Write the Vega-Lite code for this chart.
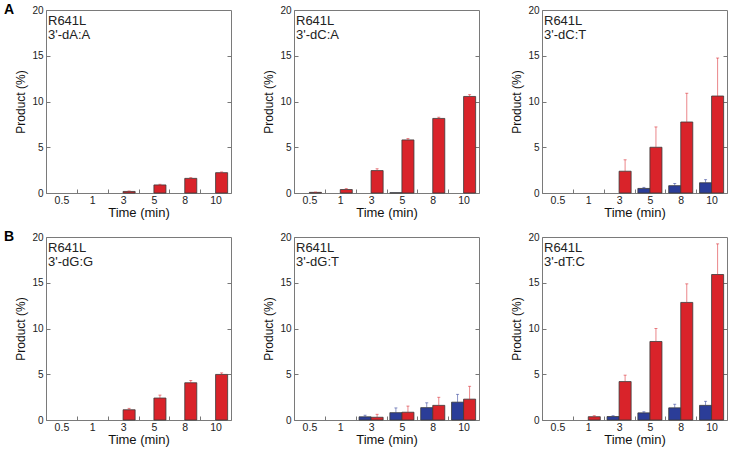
{
  "$schema": "https://vega.github.io/schema/vega-lite/v6.json",
  "padding": {"left": 3, "top": 3, "right": 2, "bottom": 2},
  "config": {
    "font": "Liberation Sans",
    "view": {"stroke": "#7a7a7a", "strokeWidth": 1},
    "axis": {"domain": false, "grid": false, "labelColor": "#222", "titleColor": "#111", "tickColor": "#777", "labelFont": "Liberation Sans", "titleFont": "Liberation Sans", "titleFontWeight": "normal"}
  },
  "data": {"values": [
    {"row": "A", "col": 1, "label": "R641L\n3'-dA:A", "time": "3", "series": "red", "value": 0.17, "upper": 0.22},
    {"row": "A", "col": 1, "label": "R641L\n3'-dA:A", "time": "5", "series": "red", "value": 0.88, "upper": 0.95},
    {"row": "A", "col": 1, "label": "R641L\n3'-dA:A", "time": "8", "series": "red", "value": 1.6, "upper": 1.68},
    {"row": "A", "col": 1, "label": "R641L\n3'-dA:A", "time": "10", "series": "red", "value": 2.22, "upper": 2.3},

    {"row": "A", "col": 2, "label": "R641L\n3'-dC:A", "time": "0.5", "series": "red", "value": 0.07, "upper": 0.1},
    {"row": "A", "col": 2, "label": "R641L\n3'-dC:A", "time": "1", "series": "red", "value": 0.38, "upper": 0.48},
    {"row": "A", "col": 2, "label": "R641L\n3'-dC:A", "time": "3", "series": "red", "value": 2.45, "upper": 2.65},
    {"row": "A", "col": 2, "label": "R641L\n3'-dC:A", "time": "5", "series": "blue", "value": 0.03, "upper": 0.03},
    {"row": "A", "col": 2, "label": "R641L\n3'-dC:A", "time": "5", "series": "red", "value": 5.8, "upper": 5.95},
    {"row": "A", "col": 2, "label": "R641L\n3'-dC:A", "time": "8", "series": "red", "value": 8.15, "upper": 8.28},
    {"row": "A", "col": 2, "label": "R641L\n3'-dC:A", "time": "10", "series": "red", "value": 10.55, "upper": 10.75},

    {"row": "A", "col": 3, "label": "R641L\n3'-dC:T", "time": "3", "series": "red", "value": 2.38, "upper": 3.63},
    {"row": "A", "col": 3, "label": "R641L\n3'-dC:T", "time": "5", "series": "blue", "value": 0.5, "upper": 0.61},
    {"row": "A", "col": 3, "label": "R641L\n3'-dC:T", "time": "5", "series": "red", "value": 5.0, "upper": 7.22},
    {"row": "A", "col": 3, "label": "R641L\n3'-dC:T", "time": "8", "series": "blue", "value": 0.8, "upper": 1.04},
    {"row": "A", "col": 3, "label": "R641L\n3'-dC:T", "time": "8", "series": "red", "value": 7.76, "upper": 10.9},
    {"row": "A", "col": 3, "label": "R641L\n3'-dC:T", "time": "10", "series": "blue", "value": 1.12, "upper": 1.46},
    {"row": "A", "col": 3, "label": "R641L\n3'-dC:T", "time": "10", "series": "red", "value": 10.6, "upper": 14.75},

    {"row": "B", "col": 1, "label": "R641L\n3'-dG:G", "time": "3", "series": "red", "value": 1.12, "upper": 1.27},
    {"row": "B", "col": 1, "label": "R641L\n3'-dG:G", "time": "5", "series": "red", "value": 2.4, "upper": 2.72},
    {"row": "B", "col": 1, "label": "R641L\n3'-dG:G", "time": "8", "series": "red", "value": 4.07, "upper": 4.32},
    {"row": "B", "col": 1, "label": "R641L\n3'-dG:G", "time": "10", "series": "red", "value": 4.98, "upper": 5.15},

    {"row": "B", "col": 2, "label": "R641L\n3'-dG:T", "time": "3", "series": "blue", "value": 0.35, "upper": 0.52},
    {"row": "B", "col": 2, "label": "R641L\n3'-dG:T", "time": "3", "series": "red", "value": 0.3, "upper": 0.62},
    {"row": "B", "col": 2, "label": "R641L\n3'-dG:T", "time": "5", "series": "blue", "value": 0.8, "upper": 1.32},
    {"row": "B", "col": 2, "label": "R641L\n3'-dG:T", "time": "5", "series": "red", "value": 0.85, "upper": 1.52},
    {"row": "B", "col": 2, "label": "R641L\n3'-dG:T", "time": "8", "series": "blue", "value": 1.35, "upper": 1.88},
    {"row": "B", "col": 2, "label": "R641L\n3'-dG:T", "time": "8", "series": "red", "value": 1.6, "upper": 2.48},
    {"row": "B", "col": 2, "label": "R641L\n3'-dG:T", "time": "10", "series": "blue", "value": 1.95, "upper": 2.8},
    {"row": "B", "col": 2, "label": "R641L\n3'-dG:T", "time": "10", "series": "red", "value": 2.28, "upper": 3.68},

    {"row": "B", "col": 3, "label": "R641L\n3'-dT:C", "time": "1", "series": "red", "value": 0.36, "upper": 0.47},
    {"row": "B", "col": 3, "label": "R641L\n3'-dT:C", "time": "3", "series": "blue", "value": 0.38, "upper": 0.47},
    {"row": "B", "col": 3, "label": "R641L\n3'-dT:C", "time": "3", "series": "red", "value": 4.2, "upper": 4.9},
    {"row": "B", "col": 3, "label": "R641L\n3'-dT:C", "time": "5", "series": "blue", "value": 0.78, "upper": 0.9},
    {"row": "B", "col": 3, "label": "R641L\n3'-dT:C", "time": "5", "series": "red", "value": 8.58, "upper": 10.0},
    {"row": "B", "col": 3, "label": "R641L\n3'-dT:C", "time": "8", "series": "blue", "value": 1.33, "upper": 1.72},
    {"row": "B", "col": 3, "label": "R641L\n3'-dT:C", "time": "8", "series": "red", "value": 12.85, "upper": 14.88},
    {"row": "B", "col": 3, "label": "R641L\n3'-dT:C", "time": "10", "series": "blue", "value": 1.6, "upper": 2.04},
    {"row": "B", "col": 3, "label": "R641L\n3'-dT:C", "time": "10", "series": "red", "value": 15.9, "upper": 19.25}
  ]},
  "facet": {
    "row": {"field": "row", "type": "nominal", "header": {"title": null, "labelOrient": "left", "labelAngle": 0, "labelAlign": "left", "labelBaseline": "middle", "labelAnchor": "end", "labelFontWeight": "bold", "labelFontSize": 14, "labelPadding": 0, "labelFont": "Liberation Sans", "labelColor": "#000"}},
    "column": {"field": "col", "type": "ordinal", "header": {"title": null, "labels": false}}
  },
  "spacing": {"row": 11, "column": 30},
  "resolve": {"axis": {"x": "independent", "y": "independent"}},
  "spec": {
    "width": 185,
    "height": 183,
    "resolve": {"axis": {"y": "independent"}},
    "layer": [
      {
        "mark": {"type": "bar", "stroke": "#3a3a3a", "strokeWidth": 0.8},
        "encoding": {
          "x": {"field": "time", "type": "ordinal", "scale": {"domain": ["0.5", "1", "3", "5", "8", "10"], "paddingInner": 0, "paddingOuter": 0},
                "axis": {"title": "Time (min)", "labelAngle": 0, "tickBand": "extent", "tickSize": -4, "labelPadding": 6, "labelFontSize": 10.5, "titleFontSize": 13, "titlePadding": 1}},
          "xOffset": {"field": "series", "type": "nominal", "scale": {"domain": ["blue", "red"], "paddingInner": 0, "paddingOuter": 0.28}},
          "y": {"field": "value", "type": "quantitative", "scale": {"domain": [0, 20], "nice": false},
                "axis": {"orient": "left", "title": "Product (%)", "values": [0, 5, 10, 15, 20], "tickSize": -4, "labelPadding": 7, "labelFontSize": 10, "titleFontSize": 12, "titlePadding": 4}},
          "color": {"field": "series", "type": "nominal", "scale": {"domain": ["blue", "red"], "range": ["#2b3d98", "#d9232a"]}, "legend": null}
        }
      },
      {
        "transform": [{"filter": "datum.upper > datum.value"}],
        "mark": {"type": "rule", "strokeWidth": 1, "opacity": 0.55},
        "encoding": {
          "x": {"field": "time", "type": "ordinal"},
          "xOffset": {"field": "series", "type": "nominal"},
          "y": {"field": "value", "type": "quantitative", "axis": {"orient": "right", "title": null, "labels": false, "values": [5, 10, 15], "tickSize": -4}},
          "y2": {"field": "upper"},
          "color": {"field": "series", "type": "nominal"}
        }
      },
      {
        "transform": [{"filter": "datum.upper > datum.value"}],
        "mark": {"type": "tick", "orient": "horizontal", "size": 3, "thickness": 1, "opacity": 0.55},
        "encoding": {
          "x": {"field": "time", "type": "ordinal"},
          "xOffset": {"field": "series", "type": "nominal"},
          "y": {"field": "upper", "type": "quantitative", "axis": null},
          "color": {"field": "series", "type": "nominal"}
        }
      },
      {
        "transform": [{"filter": "datum.time == '10' && datum.series == 'red'"}],
        "mark": {"type": "text", "align": "left", "baseline": "top", "lineBreak": "\n", "fontSize": 13, "lineHeight": 14, "dx": 2, "dy": 5, "color": "#222", "font": "Liberation Sans"},
        "encoding": {
          "x": {"datum": "0.5", "type": "ordinal", "bandPosition": 0},
          "y": {"datum": 20, "type": "quantitative", "axis": null},
          "text": {"field": "label"}
        }
      }
    ]
  }
}
